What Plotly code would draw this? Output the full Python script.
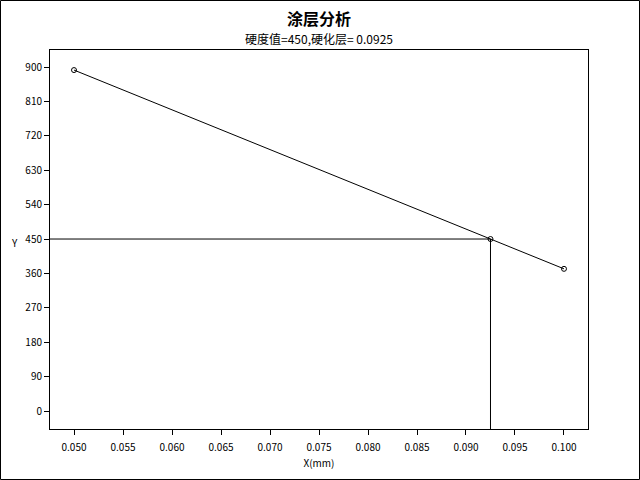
import plotly.graph_objects as go

# measured points
x_vals = [0.05, 0.1]
y_vals = [892, 372]

# read-off target
hardness = 450
depth = 0.0925

x_ticks = [0.05, 0.055, 0.06, 0.065, 0.07, 0.075, 0.08, 0.085, 0.09, 0.095, 0.1]
y_ticks = [0, 90, 180, 270, 360, 450, 540, 630, 720, 810, 900]

font_mono = "Noto Sans CJK SC, DejaVu Sans Mono, monospace"

plot_w = 640 - 50 - 52
plot_h = 480 - 50 - 51

fig = go.Figure()

fig.add_trace(go.Scatter(
    x=x_vals, y=y_vals, mode="lines+markers",
    line=dict(color="black", width=1),
    marker=dict(symbol="circle-open", size=5, color="black", line=dict(width=1)),
))

fig.add_trace(go.Scatter(
    x=[depth], y=[hardness], mode="markers",
    marker=dict(symbol="circle-open", size=5, color="black", line=dict(width=1)),
))

# guide lines to the axes
x_min = 0.04755
y_min = -47
fig.add_trace(go.Scatter(
    x=[x_min, depth, depth], y=[hardness, hardness, y_min], mode="lines",
    line=dict(color="black", width=1),
))

fig.update_layout(
    width=640, height=480,
    margin=dict(l=50, r=52, t=50, b=51, autoexpand=False),
    paper_bgcolor="white", plot_bgcolor="white",
    showlegend=False,
    font=dict(family=font_mono, size=10, color="black"),
    xaxis=dict(
        range=[x_min, 0.10245], tickvals=x_ticks, tickformat=".3f",
        ticks="outside", ticklen=5, tickcolor="black", ticklabelstandoff=4,
        showline=True, linecolor="black", linewidth=1, mirror=True,
        showgrid=False, zeroline=False,
        title=dict(text="X(mm)", font=dict(size=10), standoff=6),
    ),
    yaxis=dict(
        range=[y_min, 944.5], tickvals=y_ticks,
        ticks="outside", ticklen=5, tickcolor="black",
        showline=True, linecolor="black", linewidth=1, mirror=True,
        showgrid=False, zeroline=False,
    ),
    annotations=[
        dict(text="<b>涂层分析</b>", x=0.5, y=1 + (50 - 18) / plot_h, xref="paper", yref="paper",
             xanchor="center", yanchor="middle", showarrow=False, font=dict(size=16)),
        dict(text="硬度值=%d,硬化层= %.4f" % (hardness, depth), x=0.5, y=1 + (50 - 39) / plot_h,
             xref="paper", yref="paper", xanchor="center", yanchor="middle",
             showarrow=False, font=dict(size=12)),
        dict(text="Y", x=-(50 - 14) / plot_w, y=(429 - 242) / plot_h, xref="paper", yref="paper",
             xanchor="center", yanchor="middle", showarrow=False, font=dict(size=10)),
    ],
)

# outer frame around whole picture
fig.add_shape(type="rect", xref="paper", yref="paper",
              x0=-49.5 / plot_w, x1=1 + 51.5 / plot_w, y0=-50.5 / plot_h, y1=1 + 49.5 / plot_h,
              line=dict(color="black", width=1))

fig.write_html("out.html", config={"displayModeBar": False},
               post_script="document.body.style.margin='0';")
